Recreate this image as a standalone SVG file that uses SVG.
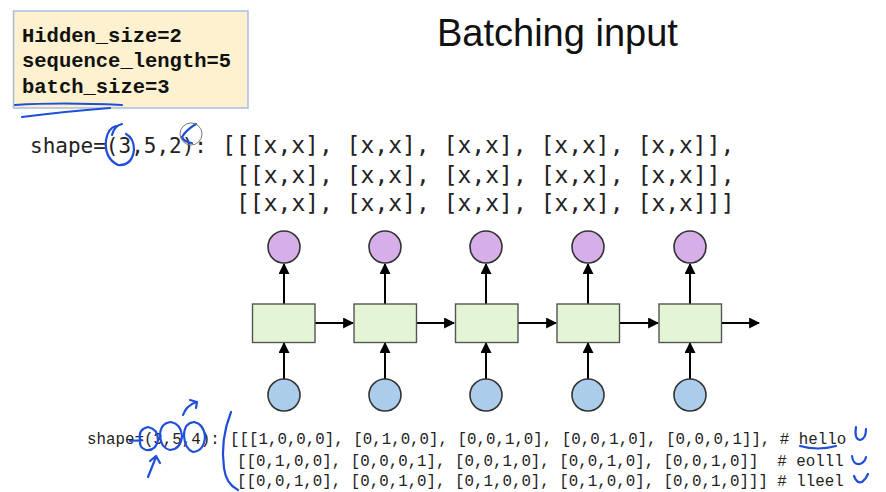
<svg xmlns="http://www.w3.org/2000/svg" width="886" height="492" viewBox="0 0 886 492">
<defs>
<style>
.box{fill:#fdf1d0;stroke:#a9bedf;stroke-width:1.5}
.param{font-family:"Liberation Mono",monospace;font-weight:bold;font-size:20.5px;fill:#111}
.title{font-family:"Liberation Sans",Arial,sans-serif;font-size:38px;fill:#111}
.arr{font-family:"DejaVu Sans Mono",monospace;font-size:23px;fill:#222}
.shp{font-family:"DejaVu Sans Mono",monospace;font-size:21px;fill:#222}
.code{font-family:"Liberation Mono",monospace;font-size:15.8px;fill:#222}
.out{fill:#d6aee8;stroke:#333;stroke-width:1.6}
.in{fill:#abcdeb;stroke:#333;stroke-width:1.6}
.cell{fill:#e3f5d5;stroke:#555;stroke-width:1.4}
.edge{stroke:#000;stroke-width:2;fill:none;marker-end:url(#ah)}
.pen{stroke:#1f4fd8;stroke-width:2.2;fill:none;stroke-linecap:round;stroke-linejoin:round}
</style>
<marker id="ah" viewBox="0 0 10 10" refX="9" refY="5" markerWidth="5.5" markerHeight="5.5" orient="auto" markerUnits="strokeWidth">
<path d="M0,0 L10,5 L0,10 z" fill="#000"/>
</marker>
</defs>
<rect width="886" height="492" fill="#fff"/>
<g id="params">
<rect class="box" x="13.5" y="11" width="234.5" height="97"/>
<text class="param" x="22" y="42">Hidden_size=2</text>
<text class="param" x="22" y="67">sequence_length=5</text>
<text class="param" x="22" y="93">batch_size=3</text>
</g>
<text id="title" class="title" x="437" y="46">Batching input</text>
<g id="output-shape">
<text class="shp" x="30" y="153">shape=(3,5,2):</text>
<text class="arr" x="222" y="153">[[[x,x], [x,x], [x,x], [x,x], [x,x]],</text>
<text class="arr" x="236" y="183">[[x,x], [x,x], [x,x], [x,x], [x,x]],</text>
<text class="arr" x="236" y="211">[[x,x], [x,x], [x,x], [x,x], [x,x]]]</text>
</g>
<g id="connectors">
<line class="edge" x1="284" y1="379" x2="284" y2="343"/>
<line class="edge" x1="385" y1="379" x2="385" y2="343"/>
<line class="edge" x1="486" y1="379" x2="486" y2="343"/>
<line class="edge" x1="588" y1="379" x2="588" y2="343"/>
<line class="edge" x1="690" y1="379" x2="690" y2="343"/>
<line class="edge" x1="284" y1="304" x2="284" y2="264"/>
<line class="edge" x1="385" y1="304" x2="385" y2="264"/>
<line class="edge" x1="486" y1="304" x2="486" y2="264"/>
<line class="edge" x1="588" y1="304" x2="588" y2="264"/>
<line class="edge" x1="690" y1="304" x2="690" y2="264"/>
<line class="edge" x1="315" y1="323" x2="353" y2="323"/>
<line class="edge" x1="417" y1="323" x2="454" y2="323"/>
<line class="edge" x1="518" y1="323" x2="556" y2="323"/>
<line class="edge" x1="620" y1="323" x2="658" y2="323"/>
<line class="edge" x1="722" y1="323" x2="759" y2="323"/>
</g>
<g id="outputs">
<circle id="y1" class="out" cx="284" cy="247" r="16"/>
<circle id="y2" class="out" cx="385" cy="247" r="16"/>
<circle id="y3" class="out" cx="486" cy="247" r="16"/>
<circle id="y4" class="out" cx="588" cy="247" r="16"/>
<circle id="y5" class="out" cx="690" cy="247" r="16"/>
</g>
<g id="cells">
<rect id="h1" class="cell" x="252.5" y="304" width="62.5" height="38.5"/>
<rect id="h2" class="cell" x="354" y="304" width="62.5" height="38.5"/>
<rect id="h3" class="cell" x="455.5" y="304" width="62.5" height="38.5"/>
<rect id="h4" class="cell" x="557" y="304" width="62.5" height="38.5"/>
<rect id="h5" class="cell" x="659" y="304" width="62.5" height="38.5"/>
</g>
<g id="inputs">
<circle id="x1" class="in" cx="284" cy="395" r="16"/>
<circle id="x2" class="in" cx="385" cy="395" r="16"/>
<circle id="x3" class="in" cx="486" cy="395" r="16"/>
<circle id="x4" class="in" cx="588" cy="395" r="16"/>
<circle id="x5" class="in" cx="690" cy="395" r="16"/>
</g>
<g id="input-shape">
<text class="code" x="87" y="444">shape=(3,5,4):</text>
<text class="code" x="230" y="444">[[[1,0,0,0], [0,1,0,0], [0,0,1,0], [0,0,1,0], [0,0,0,1]], # hello</text>
<text class="code" x="237" y="466" xml:space="preserve">[[0,1,0,0], [0,0,0,1], [0,0,1,0], [0,0,1,0], [0,0,1,0]]  # eolll</text>
<text class="code" x="237" y="486">[[0,0,1,0], [0,0,1,0], [0,1,0,0], [0,1,0,0], [0,0,1,0]]] # lleel</text>
</g>
<g id="annotations">
<path class="pen" d="M15,105 Q60,102 122,105"/>
<path class="pen" d="M22,117 Q70,111 110,108"/>
<path class="pen" d="M116,126 Q108,128 106,140 Q104,158 118,165 Q132,166 134,150 Q134,138 126,134"/>
<path class="pen" d="M112,135 Q114,126 122,124"/>
<path class="pen" d="M196,124 Q186,130 182,137 Q184,142 192,143"/>
<circle cx="191" cy="134" r="11" fill="none" stroke="#777" stroke-width="1"/>
<path class="pen" d="M140,440 Q138,429 148,427 Q158,429 158,440 Q156,451 146,450 Q139,448 140,440 M130,441 L142,440"/>
<path class="pen" d="M160,436 Q160,423 171,422 Q181,424 182,436 Q181,449 170,450 Q161,448 160,436"/>
<path class="pen" d="M184,436 Q184,423 194,422 Q204,424 205,437 Q204,451 193,452 Q185,449 184,436"/>
<path class="pen" d="M183,415 Q186,406 196,402 M190,400 L197,402 L196,408"/>
<path class="pen" d="M148,477 L156,457 M150,461 L156,456 L160,463"/>
<path class="pen" d="M231,412 Q220,440 224,468 Q226,484 238,490"/>
<path class="pen" d="M800,446 Q818,451 836,446"/>
<path class="pen" d="M856,427 Q854,439 860,440 Q866,439 866,429"/>
<path class="pen" d="M852,456 Q853,465 860,464 Q865,462 866,457"/>
<path class="pen" d="M854,476 Q857,484 862,482 Q866,479 868,474"/>
</g>
</svg>
